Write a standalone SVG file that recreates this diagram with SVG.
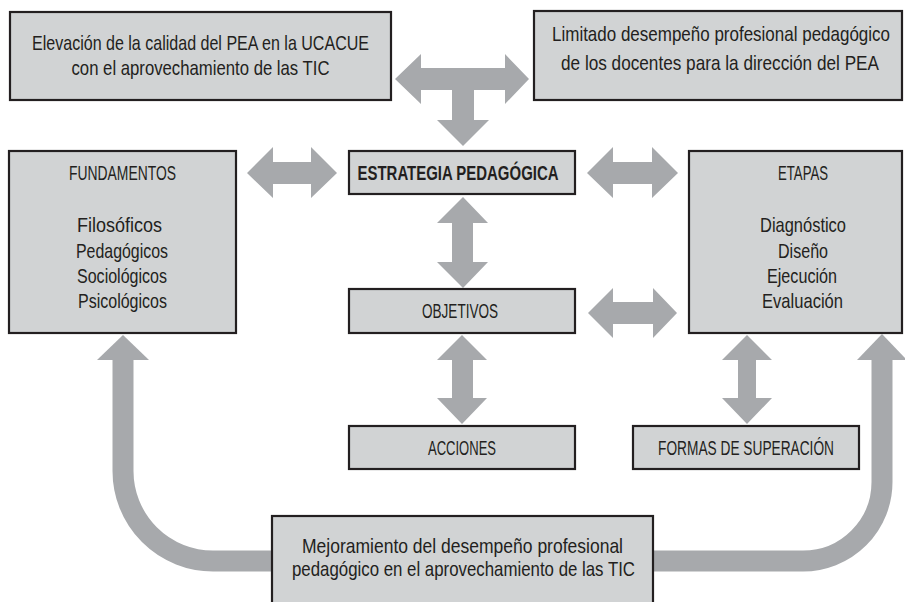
<svg xmlns="http://www.w3.org/2000/svg" width="905" height="602" viewBox="0 0 905 602">
<style>
.box{fill:#d1d3d4;stroke:#231f20;stroke-width:2.2}
.t{font-family:"Liberation Sans",Arial,sans-serif;font-size:20.5px;fill:#231f20;text-anchor:middle}
.b{font-weight:bold}
.arrow{fill:#a7a9ac}
.band{fill:none;stroke:#a7a9ac;stroke-width:21}
</style>
<rect x="0" y="0" width="905" height="602" fill="#ffffff"/>
<g id="connectors">
<polygon class="arrow" points="395,79 421,54 421,68 505,68 505,54 529,79 505,104 505,90 474,90 474,120 489,120 463,146 437,120 452,120 452,90 421,90 421,104"/>
<polygon class="arrow" points="247,173 273,147 273,162 311,162 311,147 337,173 311,198 311,184 273,184 273,198"/>
<polygon class="arrow" points="587,173 613,147 613,162 652,162 652,147 678,173 652,198 652,184 613,184 613,198"/>
<polygon class="arrow" points="588,313 613,288 613,302 653,302 653,288 677,313 653,338 653,324 613,324 613,338"/>
<polygon class="arrow" points="463,197 488,223 473,223 473,262 488,262 463,288 437,262 452,262 452,223 437,223"/>
<polygon class="arrow" points="462,335 487,360 473,360 473,398 487,398 462,424 437,398 452,398 452,360 437,360"/>
<polygon class="arrow" points="747,335 772,360 756,360 756,398 772,398 747,424 722,398 738,398 738,360 722,360"/>
<path class="band" d="M 274 561 H 213 A 90 90 0 0 1 123 471 V 359"/>
<polygon class="arrow" points="97,360 123,335 149,360"/>
<path class="band" d="M 651 561 H 803 A 79 79 0 0 0 882 482 V 359"/>
<polygon class="arrow" points="857,360 882,334 907,360"/>
</g>
<g id="elevacion">
<rect class="box" x="10" y="12" width="381" height="88"/>
<text class="t" transform="matrix(0.8,0,0,1,200.5,0)" x="0" y="50" textLength="421.25" lengthAdjust="spacingAndGlyphs">Elevación de la calidad del PEA en la UCACUE</text>
<text class="t" transform="matrix(0.8,0,0,1,200.5,0)" x="0" y="75" textLength="322.5" lengthAdjust="spacingAndGlyphs">con el aprovechamiento de las TIC</text>
</g>
<g id="limitado">
<rect class="box" x="534" y="11" width="368" height="89"/>
<text class="t" transform="matrix(0.8,0,0,1,721,0)" x="0" y="41" textLength="422.5" lengthAdjust="spacingAndGlyphs">Limitado desempeño profesional pedagógico</text>
<text class="t" transform="matrix(0.8,0,0,1,720,0)" x="0" y="70" textLength="397.5" lengthAdjust="spacingAndGlyphs">de los docentes para la dirección del PEA</text>
</g>
<g id="estrategia">
<rect class="box" x="349" y="151" width="226" height="43"/>
<text class="t b" transform="matrix(0.8,0,0,1,458,0)" x="0" y="180" textLength="251.25" lengthAdjust="spacingAndGlyphs">ESTRATEGIA PEDAGÓGICA</text>
</g>
<g id="fundamentos">
<rect class="box" x="9" y="151" width="227" height="182"/>
<text class="t" transform="matrix(0.8,0,0,1,122.5,0)" x="0" y="180" textLength="133.75" lengthAdjust="spacingAndGlyphs">FUNDAMENTOS</text>
<text class="t" transform="matrix(0.8,0,0,1,119.5,0)" x="0" y="232" textLength="106.25" lengthAdjust="spacingAndGlyphs">Filosóficos</text>
<text class="t" transform="matrix(0.8,0,0,1,122,0)" x="0" y="258" textLength="115" lengthAdjust="spacingAndGlyphs">Pedagógicos</text>
<text class="t" transform="matrix(0.8,0,0,1,122,0)" x="0" y="283" textLength="112.5" lengthAdjust="spacingAndGlyphs">Sociológicos</text>
<text class="t" transform="matrix(0.8,0,0,1,122.5,0)" x="0" y="308" textLength="111.25" lengthAdjust="spacingAndGlyphs">Psicológicos</text>
</g>
<g id="etapas">
<rect class="box" x="689" y="151" width="213" height="182"/>
<text class="t" transform="matrix(0.8,0,0,1,803,0)" x="0" y="180" textLength="62.5" lengthAdjust="spacingAndGlyphs">ETAPAS</text>
<text class="t" transform="matrix(0.8,0,0,1,803,0)" x="0" y="232" textLength="107.5" lengthAdjust="spacingAndGlyphs">Diagnóstico</text>
<text class="t" transform="matrix(0.8,0,0,1,803,0)" x="0" y="258" textLength="62.5" lengthAdjust="spacingAndGlyphs">Diseño</text>
<text class="t" transform="matrix(0.8,0,0,1,802,0)" x="0" y="283" textLength="87.5" lengthAdjust="spacingAndGlyphs">Ejecución</text>
<text class="t" transform="matrix(0.8,0,0,1,802.5,0)" x="0" y="308" textLength="101.25" lengthAdjust="spacingAndGlyphs">Evaluación</text>
</g>
<g id="objetivos">
<rect class="box" x="349" y="289" width="226" height="44"/>
<text class="t" transform="matrix(0.8,0,0,1,460,0)" x="0" y="318" textLength="95" lengthAdjust="spacingAndGlyphs">OBJETIVOS</text>
</g>
<g id="acciones">
<rect class="box" x="349" y="426" width="226" height="43"/>
<text class="t" transform="matrix(0.8,0,0,1,462,0)" x="0" y="455" textLength="85" lengthAdjust="spacingAndGlyphs">ACCIONES</text>
</g>
<g id="formas">
<rect class="box" x="633" y="426" width="226" height="43"/>
<text class="t" transform="matrix(0.8,0,0,1,746,0)" x="0" y="455" textLength="220" lengthAdjust="spacingAndGlyphs">FORMAS DE SUPERACIÓN</text>
</g>
<g id="mejoramiento">
<rect class="box" x="272" y="516" width="381" height="100"/>
<text class="t" transform="matrix(0.8,0,0,1,462.5,0)" x="0" y="553" textLength="401.25" lengthAdjust="spacingAndGlyphs">Mejoramiento del desempeño profesional</text>
<text class="t" transform="matrix(0.8,0,0,1,463.5,0)" x="0" y="576" textLength="428.75" lengthAdjust="spacingAndGlyphs">pedagógico en el aprovechamiento de las TIC</text>
</g>
</svg>
